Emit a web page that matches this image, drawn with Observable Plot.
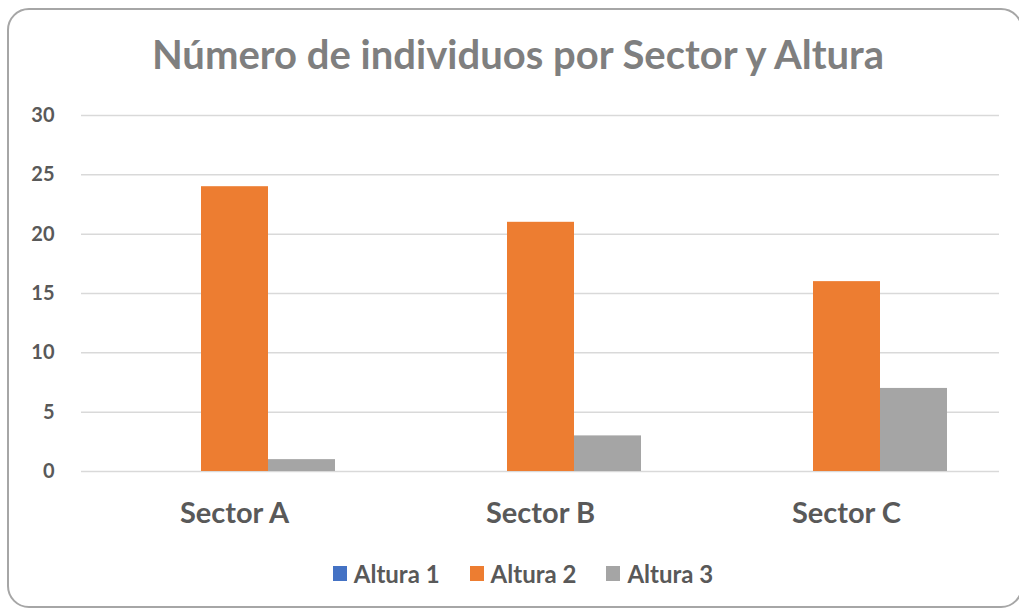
<!DOCTYPE html>
<html>
<head>
<meta charset="utf-8">
<script src="https://cdn.jsdelivr.net/npm/d3@7"></script>
<script src="https://cdn.jsdelivr.net/npm/@observablehq/plot@0.6"></script>
<style>
  html, body { margin: 0; padding: 0; background: #fff; width: 1019px; height: 610px; overflow: hidden; }
  body { position: relative; font-family: Lato, "Open Sans", sans-serif; }
  #frame { position: absolute; left: 7px; top: 8px; width: 1016px; height: 600px; border: 2.5px solid #a6a6a6; border-radius: 22px; box-sizing: border-box; }
  #title { position: absolute; left: 0; width: 1036px; top: 30px; text-align: center; font-size: 40px; font-weight: bold; color: #7f7f7f; white-space: nowrap; }
  #chart { position: absolute; left: 0; top: 95px; }
  #legend { position: absolute; left: 0; width: 1046px; top: 559px; display: flex; justify-content: center; gap: 30px; font-size: 24px; font-weight: bold; color: #595959; }
  .item { display: flex; align-items: center; gap: 7px; }
  .sw { width: 14px; height: 15px; display: inline-block; }
</style>
</head>
<body>
<div id="frame"></div>
<div id="title">Número de individuos por Sector y Altura</div>
<div id="chart"></div>
<div id="legend"></div>
<script>
const sectors = ["Sector A", "Sector B", "Sector C"];
const series = ["Altura 1", "Altura 2", "Altura 3"];
const altura1 = [0, 0, 0];
const altura2 = [24, 21, 16];
const altura3 = [1, 3, 7];
const yTicks = [0, 5, 10, 15, 20, 25, 30];
const colors = ["#4472C4", "#ED7D31", "#A5A5A5"];

const values = [altura1, altura2, altura3];
const data = [];
sectors.forEach((s, i) => series.forEach((k, j) => data.push({sector: s, series: k, value: values[j][i]})));

const chart = Plot.plot({
  width: 1019,
  height: 455,
  marginLeft: 80,
  marginRight: 19,
  marginTop: 20,
  marginBottom: 79,
  style: {fontFamily: "Lato, 'Open Sans', sans-serif", background: "transparent"},
  fx: {domain: sectors, padding: 0, label: null, axis: null},
  x: {domain: series, paddingInner: 0, paddingOuter: 0.757, axis: null},
  y: {domain: [0, 30], label: null, axis: null},
  color: {domain: series, range: colors},
  marks: [
    Plot.gridY(yTicks, {stroke: "#d9d9d9", strokeOpacity: 1, strokeWidth: 1.5}),
    Plot.barY(data, {fx: "sector", x: "series", y: "value", fill: "series"}),
    Plot.axisY(yTicks, {anchor: "left", tickSize: 0, tickPadding: 27, fontSize: 20, fontWeight: "bold", fill: "#595959", label: null}),
    Plot.axisFx({anchor: "bottom", tickSize: 0, tickPadding: 31, fontSize: 29, fontWeight: "bold", fill: "#595959", label: null})
  ]
});
document.getElementById("chart").appendChild(chart);

const legend = document.getElementById("legend");
series.forEach((k, j) => {
  const item = document.createElement("div");
  item.className = "item";
  const sw = document.createElement("span");
  sw.className = "sw";
  sw.style.background = colors[j];
  const t = document.createElement("span");
  t.textContent = k;
  item.appendChild(sw);
  item.appendChild(t);
  legend.appendChild(item);
});
</script>
</body>
</html>
